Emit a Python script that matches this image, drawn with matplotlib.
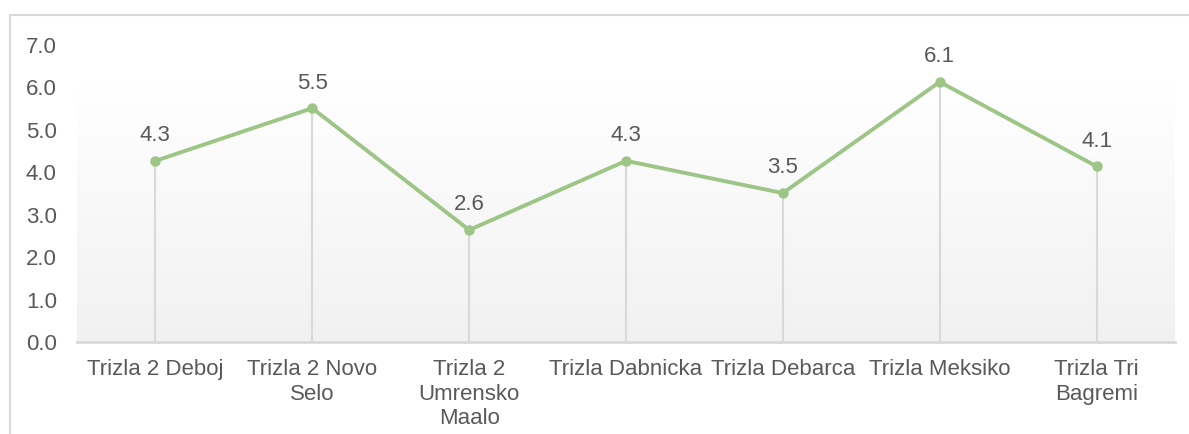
import matplotlib
matplotlib.use("Agg")
import matplotlib.pyplot as plt
import numpy as np
from matplotlib.patches import Rectangle

categories = ["Trizla 2 Deboj", "Trizla 2 Novo\nSelo", "Trizla 2\nUmrensko\nMaalo",
              "Trizla Dabnicka", "Trizla Debarca", "Trizla Meksiko", "Trizla Tri\nBagremi"]
values = [4.27, 5.51, 2.64, 4.27, 3.51, 6.13, 4.14]
yticks = [0, 1, 2, 3, 4, 5, 6, 7]

plt.rcParams['font.family'] = ['Liberation Sans', 'DejaVu Sans']
text_color = "#595959"
line_color = "#9dc586"
grid_color = "#d9d9d9"

W, H = 1189, 434
fig = plt.figure(figsize=(W / 100, H / 100), dpi=100)
fig.patch.set_facecolor("white")

# chart frame (cropped: left and top borders visible)
fig.add_artist(Rectangle((10 / W, -0.1), 1.2, 1 - 15 / H + 0.1, transform=fig.transFigure,
                         fill=False, edgecolor=grid_color, linewidth=1.5))

ax = fig.add_axes([77 / W, 1 - 342 / H, (1175 - 77) / W, (342 - 45) / H])
ax.set_facecolor("none")
x = np.arange(len(categories))
ax.set_xlim(-0.5, len(categories) - 0.5)
ax.set_ylim(0, 7)

# gradient plot-area fill
grad = np.linspace(0, 1, 256).reshape(-1, 1)
cmap = matplotlib.colors.LinearSegmentedColormap.from_list("g", ["#f1f1f1", "#ffffff"])
ax.imshow(grad, extent=[-0.5, len(categories) - 0.5, 0, 6.06], origin="lower",
          cmap=cmap, aspect="auto", zorder=0)

# drop lines
ax.vlines(x, 0, values, colors=grid_color, linewidth=1.5, zorder=1)
ax.plot(x, values, color=line_color, linewidth=2.8, marker="o", markersize=6.5,
        solid_joinstyle="round", zorder=3)

for xi, v in zip(x, values):
    ax.annotate(f"{v:.1f}", (xi, v), xytext=(0, 10.5), textcoords="offset points",
                ha="center", va="bottom", fontsize=16, color=text_color)

for s in ["top", "right", "left"]:
    ax.spines[s].set_visible(False)
ax.spines["bottom"].set_color(grid_color)
ax.spines["bottom"].set_linewidth(2)
ax.spines["bottom"].set_zorder(2)

ax.set_yticks(yticks)
ax.set_yticklabels([f"{t:.1f}" for t in yticks])
ax.set_xticks(x)
ax.set_xticklabels(categories, linespacing=1.22)
ax.tick_params(axis="y", length=0, pad=14.5, labelsize=16, labelcolor=text_color)
ax.tick_params(axis="x", length=0, pad=12.5, labelsize=16, labelcolor=text_color)

fig.savefig("out.png", dpi=100)
